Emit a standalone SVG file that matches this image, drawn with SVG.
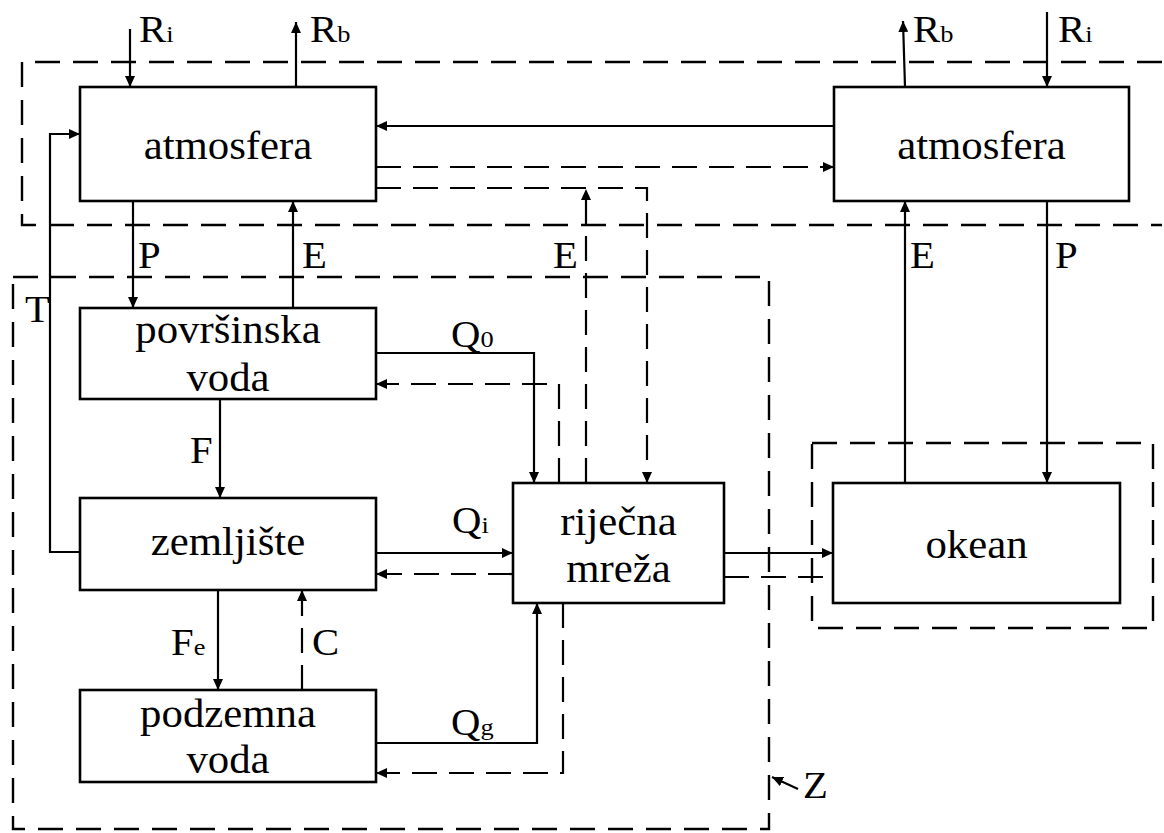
<svg xmlns="http://www.w3.org/2000/svg" width="1164" height="833" viewBox="0 0 1164 833">
<style>
  .box { fill: #fff; stroke: #000; stroke-width: 2.6; }
  .t { font-family: "Liberation Serif", "Times New Roman", serif; fill: #000; }
  .bt { font-size: 40px; text-anchor: middle; }
  .lb { font-size: 37px; }
  .sub { font-size: 24px; }
  .ln { fill: none; stroke: #000; stroke-width: 2.2; }
  .dl { fill: none; stroke: #000; stroke-width: 2.2; stroke-dasharray: 25 12; }
  .reg { fill: none; stroke: #000; stroke-width: 2.4; stroke-dasharray: 25 13; }
</style>
<defs>
  <marker id="ah" markerUnits="userSpaceOnUse" markerWidth="12" markerHeight="10" refX="11" refY="5" orient="auto">
    <path d="M0,0 L11,5 L0,10 Z" fill="#000"/>
  </marker>
</defs>
<rect width="1164" height="833" fill="#fff"/>

<g id="regions">
  <path class="reg" d="M1162,62 H22 V225 H1162"/>
  <path class="reg" d="M13,277 H769 V829 H13 Z"/>
  <path class="reg" d="M812,443 H1153 V628 H812 Z"/>
</g>

<g id="connectors">
  <path class="ln" d="M130,29 V87" marker-end="url(#ah)"/>
  <path class="ln" d="M296,87 V22" marker-end="url(#ah)"/>
  <path class="ln" d="M905,87 L903,21" marker-end="url(#ah)"/>
  <path class="ln" d="M1047,12 V87" marker-end="url(#ah)"/>
  <path class="ln" d="M834,126 H376" marker-end="url(#ah)"/>
  <path class="ln" d="M133,201 V308" marker-end="url(#ah)"/>
  <path class="ln" d="M293,308 V201" marker-end="url(#ah)"/>
  <path class="ln" d="M80,552 H50 V134 H80" marker-end="url(#ah)"/>
  <path class="ln" d="M376,353 H534 V483" marker-end="url(#ah)"/>
  <path class="ln" d="M220,399 V498" marker-end="url(#ah)"/>
  <path class="ln" d="M376,553 H513" marker-end="url(#ah)"/>
  <path class="ln" d="M218,590 V690" marker-end="url(#ah)"/>
  <path class="ln" d="M376,743 H537 V603" marker-end="url(#ah)"/>
  <path class="ln" d="M724,553 H833" marker-end="url(#ah)"/>
  <path class="ln" d="M905,483 V201" marker-end="url(#ah)"/>
  <path class="ln" d="M1047,201 V483" marker-end="url(#ah)"/>
  <path class="ln" d="M798,789 L772,777" marker-end="url(#ah)"/>

  <path class="dl" d="M376,167 H834" marker-end="url(#ah)"/>
  <path class="dl" d="M376,188 H647 V483" marker-end="url(#ah)"/>
  <path class="dl" d="M586,483 V189" marker-end="url(#ah)"/>
  <path class="dl" d="M559,483 V384 H376" marker-end="url(#ah)"/>
  <path class="dl" d="M513,574 H376" marker-end="url(#ah)"/>
  <path class="dl" d="M302,690 V590" marker-end="url(#ah)"/>
  <path class="dl" d="M563,603 V773 H376" marker-end="url(#ah)"/>
  <path class="dl" d="M724,577 H826"/>
</g>

<g id="atmosfera-left">
  <rect class="box" x="80" y="87" width="296" height="114"/>
  <text class="t bt" transform="translate(228,159) scale(1.07,1)">atmosfera</text>
</g>
<g id="atmosfera-right">
  <rect class="box" x="834" y="87" width="295" height="114"/>
  <text class="t bt" transform="translate(981.5,159) scale(1.07,1)">atmosfera</text>
</g>
<g id="povrsinska-voda">
  <rect class="box" x="80" y="308" width="296" height="91"/>
  <text class="t bt" transform="translate(228,343) scale(1.07,1)">površinska</text>
  <text class="t bt" transform="translate(228,391) scale(1.07,1)">voda</text>
</g>
<g id="zemljiste">
  <rect class="box" x="80" y="498" width="296" height="92"/>
  <text class="t bt" transform="translate(228,555) scale(1.07,1)">zemljište</text>
</g>
<g id="podzemna-voda">
  <rect class="box" x="80" y="690" width="296" height="92"/>
  <text class="t bt" transform="translate(228,727) scale(1.07,1)">podzemna</text>
  <text class="t bt" transform="translate(228,773) scale(1.07,1)">voda</text>
</g>
<g id="rijecna-mreza">
  <rect class="box" x="513" y="483" width="211" height="120"/>
  <text class="t bt" transform="translate(618.5,535) scale(1.07,1)">riječna</text>
  <text class="t bt" transform="translate(618.5,582) scale(1.07,1)">mreža</text>
</g>
<g id="okean">
  <rect class="box" x="833" y="483" width="287" height="120"/>
  <text class="t bt" transform="translate(976.5,558) scale(1.07,1)">okean</text>
</g>

<g id="labels">
  <text class="t lb" transform="translate(139,42) scale(1.1,1)">R<tspan class="sub">i</tspan></text>
  <text class="t lb" transform="translate(310,42) scale(1.1,1)">R<tspan class="sub">b</tspan></text>
  <text class="t lb" transform="translate(913,42) scale(1.1,1)">R<tspan class="sub">b</tspan></text>
  <text class="t lb" transform="translate(1058,42) scale(1.1,1)">R<tspan class="sub">i</tspan></text>
  <text class="t lb" transform="translate(138,268) scale(1.1,1)">P</text>
  <text class="t lb" transform="translate(302,268) scale(1.1,1)">E</text>
  <text class="t lb" transform="translate(553,268) scale(1.1,1)">E</text>
  <text class="t lb" transform="translate(910,268) scale(1.1,1)">E</text>
  <text class="t lb" transform="translate(1055,268) scale(1.1,1)">P</text>
  <text class="t lb" transform="translate(25,322) scale(1.1,1)">T</text>
  <text class="t lb" transform="translate(451,347) scale(1.1,1)">Q<tspan class="sub">0</tspan></text>
  <text class="t lb" transform="translate(190,463) scale(1.1,1)">F</text>
  <text class="t lb" transform="translate(452,533) scale(1.1,1)">Q<tspan class="sub">i</tspan></text>
  <text class="t lb" transform="translate(171,655) scale(1.1,1)">F<tspan class="sub">e</tspan></text>
  <text class="t lb" transform="translate(312,655) scale(1.1,1)">C</text>
  <text class="t lb" transform="translate(451,735) scale(1.1,1)">Q<tspan class="sub">g</tspan></text>
  <text class="t lb" transform="translate(803,798) scale(1.1,1)">Z</text>
</g>
</svg>
